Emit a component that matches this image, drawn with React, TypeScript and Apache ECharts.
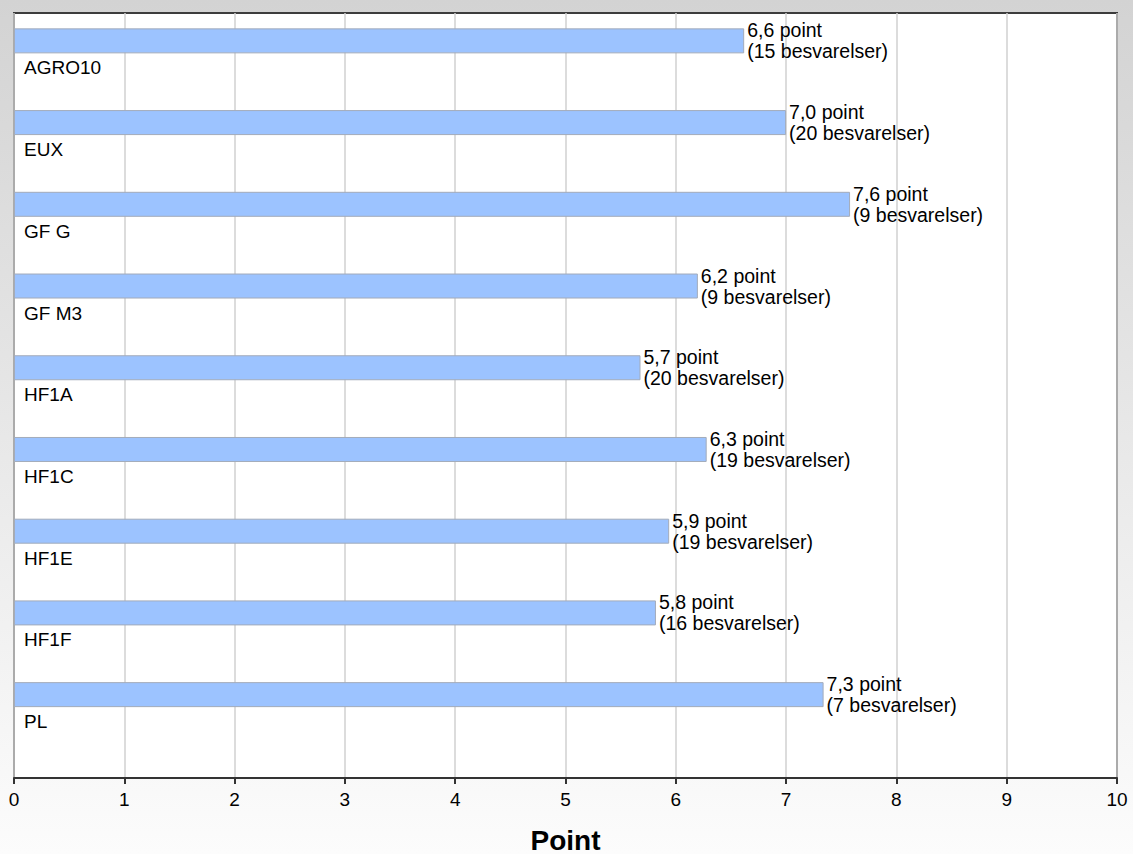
import React, { useEffect, useRef } from "react";
import * as echarts from "echarts";

const categories = ["AGRO10", "EUX", "GF G", "GF M3", "HF1A", "HF1C", "HF1E", "HF1F", "PL"];
const pointValues = [6.62, 7.0, 7.58, 6.2, 5.68, 6.28, 5.94, 5.82, 7.34];
const responseCounts = [15, 20, 9, 9, 20, 19, 19, 16, 7];
const xTicks = { min: 0, max: 10, interval: 1 };

const FONT = "'Liberation Sans', Arial, sans-serif";

const fmt = (v: number) => v.toFixed(1).replace(".", ",");

export default function App() {
  const ref = useRef<HTMLDivElement>(null);
  useEffect(() => {
    if (!ref.current) return;
    const chart = echarts.init(ref.current, undefined, { renderer: "svg" });
    chart.setOption({
      animation: false,
      backgroundColor: {
        type: "linear",
        x: 0, y: 0, x2: 0, y2: 1,
        colorStops: [
          { offset: 0, color: "#d3d3d3" },
          { offset: 1, color: "#fcfcfc" },
        ],
      },
      textStyle: { fontFamily: FONT },
      grid: [
        {
          left: 14, top: 13, right: 16, bottom: 76,
          outerBoundsMode: "none", containLabel: false,
          show: true, backgroundColor: "#ffffff",
          borderColor: "#3c3c3c", borderWidth: 2,
        },
        {
          left: 14, top: 0, right: 16, height: 735.5,
          outerBoundsMode: "none", containLabel: false,
        },
      ],
      xAxis: [
        {
          gridIndex: 0, type: "value",
          min: xTicks.min, max: xTicks.max, interval: xTicks.interval,
          axisLine: { show: true, lineStyle: { color: "#333", width: 2 } },
          axisTick: { show: true, length: 6, lineStyle: { color: "#333", width: 2 } },
          axisLabel: { fontSize: 19, color: "#000", margin: 12, fontFamily: FONT },
          splitLine: { show: true, lineStyle: { color: "#d0d0d0", width: 1.5 } },
          name: "Point", nameLocation: "middle", nameGap: 48,
          nameTextStyle: { fontSize: 28, fontWeight: "bold", color: "#000", fontFamily: FONT },
        },
        {
          gridIndex: 1, type: "value",
          min: xTicks.min, max: xTicks.max, show: false,
        },
      ],
      yAxis: [
        { gridIndex: 0, type: "value", show: false },
        {
          gridIndex: 1, type: "category", data: categories, inverse: true,
          axisLine: { show: false }, axisTick: { show: false },
          splitLine: { show: false }, axisLabel: { show: false },
        },
      ],
      series: [
        {
          type: "bar",
          name: "labels",
          xAxisIndex: 1, yAxisIndex: 1,
          data: categories.map(() => xTicks.max),
          barWidth: 25,
          barGap: "-100%",
          silent: true,
          z: 1,
          itemStyle: { color: "rgba(0,0,0,0)" },
          label: {
            show: true, position: "insideLeft", distance: 0, offset: [10, 27],
            fontSize: 19, color: "#000", fontFamily: FONT,
            formatter: (p: any) => categories[p.dataIndex],
          },
        },
        {
          type: "bar",
          name: "Point",
          xAxisIndex: 1, yAxisIndex: 1,
          data: pointValues,
          barWidth: 25,
          barGap: "-100%",
          z: 3,
          itemStyle: { color: "#9cc3ff", borderColor: "#a3abba", borderWidth: 1 },
          label: {
            show: true, position: "right", distance: 3,
            fontSize: 19.5, lineHeight: 21, color: "#000", fontFamily: FONT,
            formatter: (p: any) =>
              `${fmt(pointValues[p.dataIndex])} point\n(${responseCounts[p.dataIndex]} besvarelser)`,
          },
        },
      ],
    });
    return () => chart.dispose();
  }, []);
  return (
    <div
      ref={ref}
      style={{ position: "fixed", left: 0, top: 0, width: 1133, height: 854 }}
    />
  );
}
